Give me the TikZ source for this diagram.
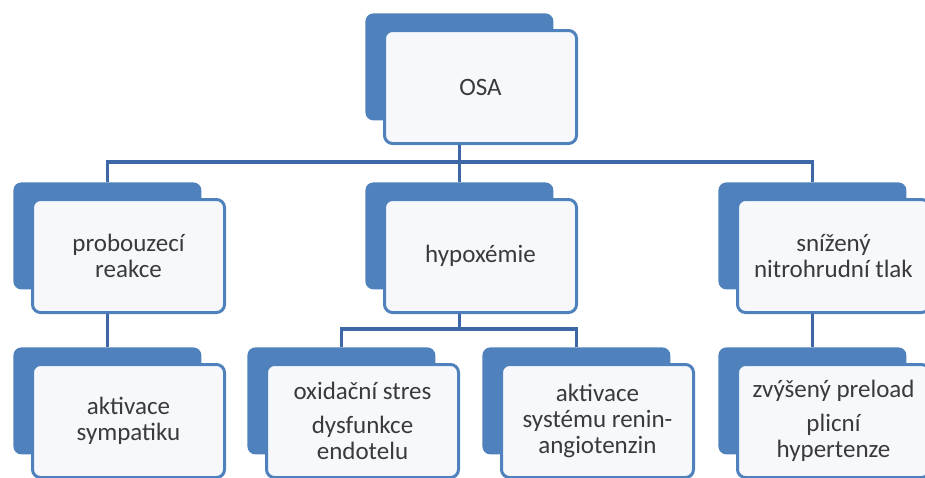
\documentclass[tikz,border=0pt]{standalone}
\usepackage{fontspec}
\setmainfont{Carlito}
\usetikzlibrary{calc}
\definecolor{smblue}{HTML}{4F81BD}
\definecolor{smline}{HTML}{3E67A6}
\definecolor{smfront}{HTML}{F6F8FC}
\definecolor{smtext}{HTML}{3A3A3A}

\begin{document}
\begin{tikzpicture}[x=.5pt, y=-.5pt,
  backbox/.style={anchor=north west, fill=smblue, rounded corners=4pt,
    minimum width=94pt, minimum height=53.5pt, inner sep=0pt},
  frontbox/.style={anchor=north west, draw=smblue, line width=1.5pt, fill=smfront,
    rounded corners=4pt, minimum width=96pt, minimum height=56.5pt, inner sep=0pt,
    align=center, text=smtext, font=\fontsize{12.5}{13}\selectfont},
  link/.style={draw=smline, line width=1.6pt}]
\useasboundingbox (0,0) rectangle (925,477);
% boxes: back card + front card
\foreach \nm/\x/\y/\txt in {osa/365/13/{OSA},
    pro/13/182/{probouzecí\\reakce}, hyp/365/182/{hypoxémie}, sni/718/182/{snížený\\nitrohrudní tlak},
    akt/13/347/{aktivace\\sympatiku}, oxi/247/347/{oxidační stres\\[4pt]dysfunkce\\endotelu},
    ren/482/347/{aktivace\\systému renin-\\angiotenzin}, zvy/718/347/{zvýšený preload\\[4pt]plicní\\hypertenze}} {
  \node[backbox] (\nm-b) at (\x,\y) {};
  \node[frontbox] (\nm) at ([shift={(18,16)}]\nm-b.north west) {\txt};
}
% connectors
\coordinate (bus1) at (0,162);
\coordinate (bus2) at (0,329);
\draw[link] (osa.south -| osa-b.south) -- (hyp-b.north);
\draw[link] (pro-b.north) -- (pro-b.north |- bus1) -| (sni-b.north);
\draw[link] (pro.south -| pro-b.south) -- (akt-b.north);
\draw[link] (sni.south -| sni-b.south) -- (zvy-b.north);
\draw[link] (hyp.south -| hyp-b.south) -- (hyp-b.south |- bus2);
\draw[link] (oxi-b.north) -- (oxi-b.north |- bus2) -| (ren-b.north);
\end{tikzpicture}
\end{document}
